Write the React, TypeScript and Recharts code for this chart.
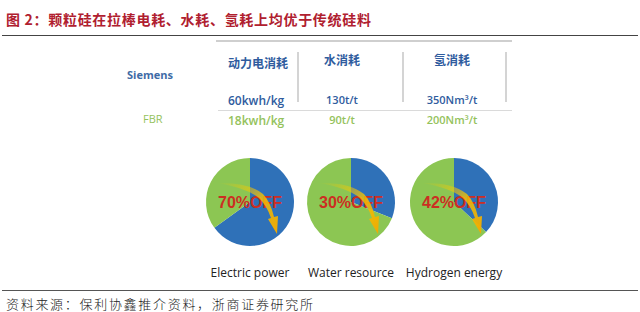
import { PieChart, Pie, Cell } from "recharts";

const categories = ["Electric power", "Water resource", "Hydrogen energy"];
// blue slice = saving share as drawn, green = remaining FBR share
const savedShare = [65, 31, 37];
const offLabels = ["70%OFF", "30%OFF", "42%OFF"];
const headers = ["动力电消耗", "水消耗", "氢消耗"];
const siemensValues = ["60kwh/kg", "130t/t", "350Nm³/t"];
const fbrValues = ["18kwh/kg", "90t/t", "200Nm³/t"];

const BLUE = "#2F71B8";
const GREEN = "#8CC653";
const TEXT_BLUE = "#2F5C9E";
const FBR_GREEN = "#94C25C";

const pieCenters = [250, 351, 454];
const colCenters = [256, 342, 452];

function OffLabel(props: any) {
  const { cx, cy, index, name } = props;
  if (index !== 0) return null;
  const id = "grad-" + String(name).replace(/\W/g, "");
  const text = props.offText;
  return (
    <g>
      <defs>
        <linearGradient id={id} x1="0" y1="0" x2="1" y2="1">
          <stop offset="0%" stopColor="#F8CC00" stopOpacity={0} />
          <stop offset="50%" stopColor="#F8C400" stopOpacity={0.8} />
          <stop offset="100%" stopColor="#F2A800" />
        </linearGradient>
      </defs>
      <text
        x={cx}
        y={cy}
        textAnchor="middle"
        dominantBaseline="central"
        fill="#CC2E22"
        style={{ fontSize: 16, fontWeight: 700, fontFamily: "Liberation Sans, Arial, sans-serif" }}
      >
        {text}
      </text>
      <path
        transform={`translate(${cx},${cy})`}
        d="M -32,-19 Q -2,-20 13,-8 Q 21,1 24,15 L 28,14 L 27,32 L 18,17 L 21,16 Q 17,4 9,-4 Q -3,-14 -32,-19 Z"
        fill={`url(#${id})`}
      />
    </g>
  );
}

export default function App() {
  return (
    <div style={{ position: "relative", width: 640, height: 312, background: "#fff", overflow: "hidden" }}>
      <style>{"body{margin:0}"}</style>
      <div
        style={{
          position: "absolute",
          left: 6,
          top: 9,
          fontSize: 14,
          fontWeight: 700,
          letterSpacing: 0.7,
          color: "#B0202F",
          fontFamily: "Noto Sans CJK SC, sans-serif",
          whiteSpace: "pre",
        }}
      >
        图 2：颗粒硅在拉棒电耗、水耗、氢耗上均优于传统硅料
      </div>
      <div style={{ position: "absolute", left: 2, right: 2, top: 35, height: 1, background: "#444" }} />

      {/* comparison table */}
      <div style={{ position: "absolute", left: 216, width: 296, top: 40, height: 2, background: "#CFCFCF" }} />
      <div style={{ position: "absolute", left: 218, width: 294, top: 110, height: 1, background: "#DADADA" }} />
      {[297, 402, 505].map((x) => (
        <div key={x} style={{ position: "absolute", left: x, top: 52, width: 1.5, height: 50, background: "#D4D4D4" }} />
      ))}
      <div
        style={{
          position: "absolute",
          left: 127,
          top: 67,
          fontSize: 11,
          fontWeight: 700,
          color: "#3E6BA6",
          fontFamily: "Open Sans, sans-serif",
        }}
      >
        Siemens
      </div>
      <div
        style={{
          position: "absolute",
          left: 143,
          top: 111,
          fontSize: 11,
          color: FBR_GREEN,
          fontFamily: "Open Sans, sans-serif",
        }}
      >
        FBR
      </div>
      {headers.map((h, i) => (
        <div
          key={h}
          style={{
            position: "absolute",
            left: i === 0 ? 228 : colCenters[i] - 60,
            width: i === 0 ? undefined : 120,
            textAlign: i === 0 ? "left" : "center",
            top: i === 0 ? 54 : 51,
            fontSize: 12,
            fontWeight: 700,
            color: TEXT_BLUE,
            fontFamily: "Noto Sans CJK SC, sans-serif",
            whiteSpace: "nowrap",
          }}
        >
          {h}
        </div>
      ))}
      {siemensValues.map((v, i) => (
        <div
          key={v}
          style={{
            position: "absolute",
            left: i === 0 ? 228 : colCenters[i] - 60,
            width: i === 0 ? undefined : 120,
            textAlign: i === 0 ? "left" : "center",
            top: 92,
            fontSize: i === 0 ? 12 : 11,
            fontWeight: 600,
            color: TEXT_BLUE,
            fontFamily: "Open Sans, sans-serif",
            whiteSpace: "nowrap",
          }}
        >
          {v}
        </div>
      ))}
      {fbrValues.map((v, i) => (
        <div
          key={v}
          style={{
            position: "absolute",
            left: i === 0 ? 228 : colCenters[i] - 60,
            width: i === 0 ? undefined : 120,
            textAlign: i === 0 ? "left" : "center",
            top: 112,
            fontSize: i === 0 ? 12 : 11,
            fontWeight: 600,
            color: FBR_GREEN,
            fontFamily: "Open Sans, sans-serif",
            whiteSpace: "nowrap",
          }}
        >
          {v}
        </div>
      ))}

      <div style={{ position: "absolute", left: 0, top: 0 }}>
        <PieChart width={640} height={312} margin={{ top: 0, right: 0, bottom: 0, left: 0 }}>
          {categories.map((c, i) => (
            <Pie
              key={c}
              data={[
                { name: c + " saved", value: savedShare[i] },
                { name: c + " FBR", value: 100 - savedShare[i] },
              ]}
              dataKey="value"
              cx={pieCenters[i]}
              cy={202}
              outerRadius={44}
              startAngle={90}
              endAngle={-270}
              stroke="none"
              isAnimationActive={false}
              labelLine={false}
              label={(p: any) => <OffLabel {...p} offText={offLabels[i]} />}
            >
              <Cell fill={BLUE} />
              <Cell fill={GREEN} />
            </Pie>
          ))}
        </PieChart>
      </div>

      {categories.map((c, i) => (
        <div
          key={c}
          style={{
            position: "absolute",
            left: pieCenters[i] - 60,
            width: 120,
            textAlign: "center",
            top: 264,
            fontSize: 12,
            color: "#222",
            fontFamily: "Open Sans, sans-serif",
            whiteSpace: "nowrap",
          }}
        >
          {c}
        </div>
      ))}

      <div style={{ position: "absolute", left: 2, right: 2, top: 290, height: 1, background: "#555" }} />
      <div
        style={{
          position: "absolute",
          left: 6,
          top: 294,
          fontSize: 13,
          letterSpacing: 1.7,
          color: "#222",
          fontFamily: "Noto Sans CJK SC, sans-serif",
          fontWeight: 300,
          whiteSpace: "nowrap",
        }}
      >
        资料来源：保利协鑫推介资料，浙商证券研究所
      </div>
    </div>
  );
}
